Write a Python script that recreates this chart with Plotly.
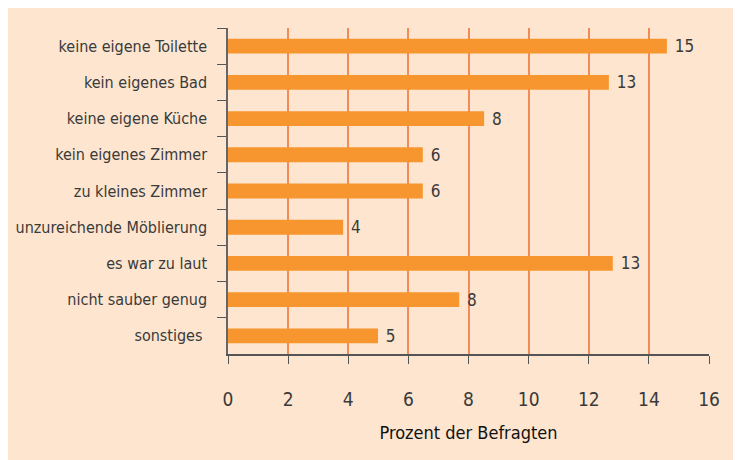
import plotly.graph_objects as go

categories = [
    "keine eigene Toilette",
    "kein eigenes Bad",
    "keine eigene Küche",
    "kein eigenes Zimmer",
    "zu kleines Zimmer",
    "unzureichende Möblierung",
    "es war zu laut",
    "nicht sauber genug",
    "sonstiges\u00a0",
]
values = [14.6, 12.67, 8.52, 6.48, 6.48, 3.83, 12.8, 7.69, 4.99]
value_labels = ["15", "13", "8", "6", "6", "4", "13", "8", "5"]
x_ticks = [0, 2, 4, 6, 8, 10, 12, 14, 16]

FONT = "DejaVu Sans Condensed, Liberation Sans Narrow, sans-serif"
BG = "#FDE5CF"
BAR = "#F7962F"
GRID = "#F48A58"
TXT = "#3a3a3a"


def f(size, color=TXT):
    return dict(family=FONT, size=size, color=color)


fig = go.Figure(
    go.Bar(
        x=values,
        y=categories,
        orientation="h",
        marker=dict(color=BAR, line=dict(width=0)),
        width=0.41,
        text=value_labels,
        texttemplate=" %{text}",
        textposition="outside",
        constraintext="none",
        textfont=f(17),
        cliponaxis=False,
    )
)

# page body has an 8px margin; figure sized to fill the rest of the window
W, H = 733, 452
L, R, T, B = 220, 32, 20, 106

fig.update_layout(
    width=W, height=H,
    margin=dict(l=L, r=R, t=T, b=B, autoexpand=False),
    paper_bgcolor=BG,
    plot_bgcolor="rgba(0,0,0,0)",
    showlegend=False,
    font=f(16),
    xaxis=dict(
        range=[0, 16],
        tickvals=x_ticks,
        ticktext=[str(v) for v in x_ticks],
        showgrid=True, gridcolor=GRID, gridwidth=1.5,
        zeroline=False,
        showline=True, linecolor="#555555", linewidth=1.5,
        ticks="outside", ticklen=8, tickcolor="#555555",
        ticklabelstandoff=19,
        tickfont=f(19),
        automargin=False,
        title=dict(text="Prozent der Befragten", font=f(18, "#111111"), standoff=18),
    ),
    yaxis=dict(
        autorange="reversed",
        showgrid=False, zeroline=False,
        showline=True, linecolor="#666666", linewidth=1.5,
        ticks="outside", ticklen=9, tickcolor="#555555",
        tickson="boundaries",
        ticklabelstandoff=16,
        tickfont=f(16),
        automargin=False,
    ),
)

fig.write_html("out.html")
